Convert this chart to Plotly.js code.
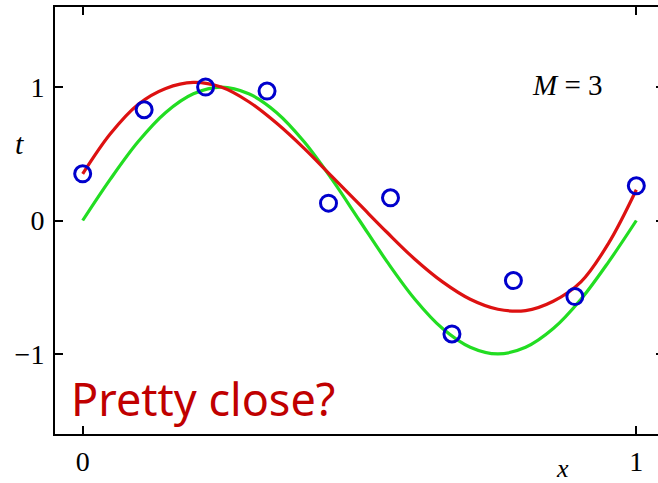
<!DOCTYPE html>
<html>
<head>
<meta charset="utf-8">
<script src="https://cdn.plot.ly/plotly-3.0.1.min.js"></script>
<style>
  html, body { margin: 0; padding: 0; overflow: hidden; background: #fff; }
  #chart { width: 670px; height: 483px; }
</style>
</head>
<body>
<div id="chart"></div>
<script>
// Observed training points
const pointX = [0, 0.111, 0.222, 0.333, 0.444, 0.556, 0.667, 0.778, 0.889, 1.0];
const pointT = [0.35, 0.83, 1.00, 0.97, 0.13, 0.17, -0.85, -0.45, -0.57, 0.26];

// Curves
const curveX = [0, 0.05, 0.10, 0.15, 0.20, 0.25, 0.30, 0.35, 0.40, 0.45, 0.50,
                0.55, 0.60, 0.65, 0.70, 0.75, 0.80, 0.85, 0.90, 0.95, 1.0];
const greenT = [0, 0.31, 0.59, 0.81, 0.95, 1.00, 0.95, 0.81, 0.59, 0.31, 0,
                -0.31, -0.59, -0.81, -0.95, -1.00, -0.95, -0.81, -0.59, -0.31, 0];
const redT   = [0.35, 0.65, 0.87, 0.99, 1.035, 1.00, 0.89, 0.73, 0.54, 0.33, 0.12,
                -0.09, -0.29, -0.46, -0.59, -0.665, -0.675, -0.605, -0.46, -0.17, 0.23];

const xTickVals = [0, 1];
const xTickText = ['0', '1'];
const yTickVals = [-1, 0, 1];
const yTickText = ['\u22121', '0', '1'];

const serif = 'Liberation Serif, Times New Roman, serif';

const traces = [
  { x: curveX, y: greenT, mode: 'lines', line: { color: '#22dd22', width: 3.2, shape: 'spline' }, hoverinfo: 'skip' },
  { x: curveX, y: redT, mode: 'lines', line: { color: '#dd1111', width: 3.2, shape: 'spline' }, hoverinfo: 'skip' },
  { x: pointX, y: pointT, mode: 'markers',
    marker: { symbol: 'circle-open', size: 16, color: '#0000cc', line: { color: '#0000cc', width: 3 } } }
];

const axisCommon = {
  showline: true, linecolor: '#000', linewidth: 2, mirror: 'ticks',
  ticks: 'inside', ticklen: 8, tickwidth: 2, tickcolor: '#000',
  showgrid: false, zeroline: false,
  tickfont: { family: serif, size: 28, color: '#000' }
};

const layout = {
  width: 670, height: 483,
  margin: { l: 55, r: 6, t: 7, b: 49 },
  paper_bgcolor: '#fff', plot_bgcolor: '#fff',
  showlegend: false,
  xaxis: Object.assign({}, axisCommon, { range: [-0.05, 1.05], tickmode: 'array', tickvals: xTickVals, ticktext: xTickText, ticklabelstandoff: 1 }),
  yaxis: Object.assign({}, axisCommon, { range: [-1.6, 1.6], tickmode: 'array', tickvals: yTickVals, ticktext: yTickText, ticklabelstandoff: 3 }),
  annotations: [
    { xref: 'paper', yref: 'paper', x: 0.841, y: 0.817, xanchor: 'center', yanchor: 'middle',
      text: '<i>M</i> = 3', showarrow: false, font: { family: serif, size: 29, color: '#000' } },
    { xref: 'paper', yref: 'paper', x: -0.0575, y: 0.681, xanchor: 'center', yanchor: 'middle',
      text: '<i>t</i>', showarrow: false, font: { family: serif, size: 30, color: '#000' } },
    { xref: 'paper', yref: 'paper', x: 0.834, y: -0.08, xanchor: 'center', yanchor: 'middle',
      text: '<i>x</i>', showarrow: false, font: { family: serif, size: 26, color: '#000' } },
    { xref: 'paper', yref: 'paper', x: 0.0225, y: 0.084, xanchor: 'left', yanchor: 'middle',
      text: 'Pretty close?', showarrow: false, font: { family: 'Noto Sans, sans-serif', size: 45, color: '#c00000' } }
  ]
};

Plotly.newPlot('chart', traces, layout, { displayModeBar: false, staticPlot: true });
</script>
</body>
</html>
